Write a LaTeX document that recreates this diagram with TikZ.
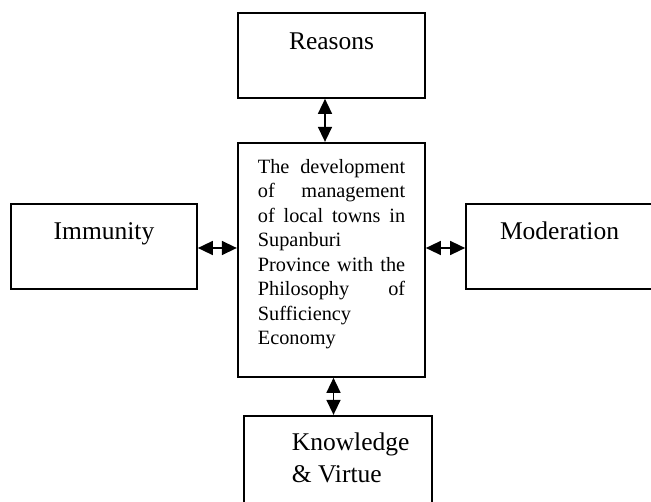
\documentclass[tikz,border=0pt]{standalone}
\usepackage{fontspec}
\setmainfont{Liberation Serif}
\usetikzlibrary{arrows.meta}
\newcommand\jline[1]{\hbox to 147.3pt{\spaceskip=0.25em plus 1fil\relax #1}}
\begin{document}
\begin{tikzpicture}[x=1pt,y=1pt,
  box/.style={draw, line width=1.7pt, inner sep=0pt},
  lbl/.style={inner sep=0pt, font=\fontsize{25.5}{30}\selectfont},
  ctxt/.style={inner sep=0pt, font=\fontsize{20.3}{24.5}\selectfont},
  arr/.style={{Triangle[length=15pt,width=14pt]}-{Triangle[length=15pt,width=14pt]}, line width=1.5pt}]
\useasboundingbox (0,0) rectangle (651,501);
% boxes
\node[box, minimum width=187pt, minimum height=85pt] (reasons) at (331.5,445.5) {};
\node[box, minimum width=187.3pt, minimum height=234.3pt] (ctr) at (331.35,241.15) {};
\node[box, minimum width=186pt, minimum height=84.7pt] (immunity) at (104,254.65) {};
\node[box, minimum width=187pt, minimum height=85pt] (moderation) at (559.5,254.5) {};
\node[box, minimum width=188pt, minimum height=90.3pt] (knowledge) at (338,40.15) {};
% texts
\node[lbl, anchor=base] (reasons-t) at (331.5,451.7) {Reasons};
\node[lbl, anchor=base] (immunity-t) at (104,261.7) {Immunity};
\node[lbl, anchor=base] (moderation-t) at (559.5,261.7) {Moderation};
\node[lbl, anchor=base west] (knowledge-t) at (291.7,50.3)
  {\vtop{\baselineskip=32pt \hbox{Knowledge}\hbox{\& Virtue}}};
\node[ctxt, anchor=base west] (ctr-t) at (257.7,327.7)
  {\vtop{\baselineskip=24.5pt
    \jline{The development}
    \jline{of management}
    \jline{of local towns in}
    \hbox{Supanburi}
    \jline{Province with the}
    \jline{Philosophy of}
    \hbox{Sufficiency}
    \hbox{Economy}}};
% connectors
\coordinate (vx1) at (325,0);
\coordinate (vx2) at (333.5,0);
\coordinate (hy) at (0,253);
\draw[arr] (vx1 |- reasons.south) -- (vx1 |- ctr.north);
\draw[arr] (vx2 |- ctr.south) -- (vx2 |- knowledge.north);
\draw[arr] (immunity.east |- hy) -- (ctr.west |- hy);
\draw[arr] (ctr.east |- hy) -- (moderation.west |- hy);
\end{tikzpicture}
\end{document}
